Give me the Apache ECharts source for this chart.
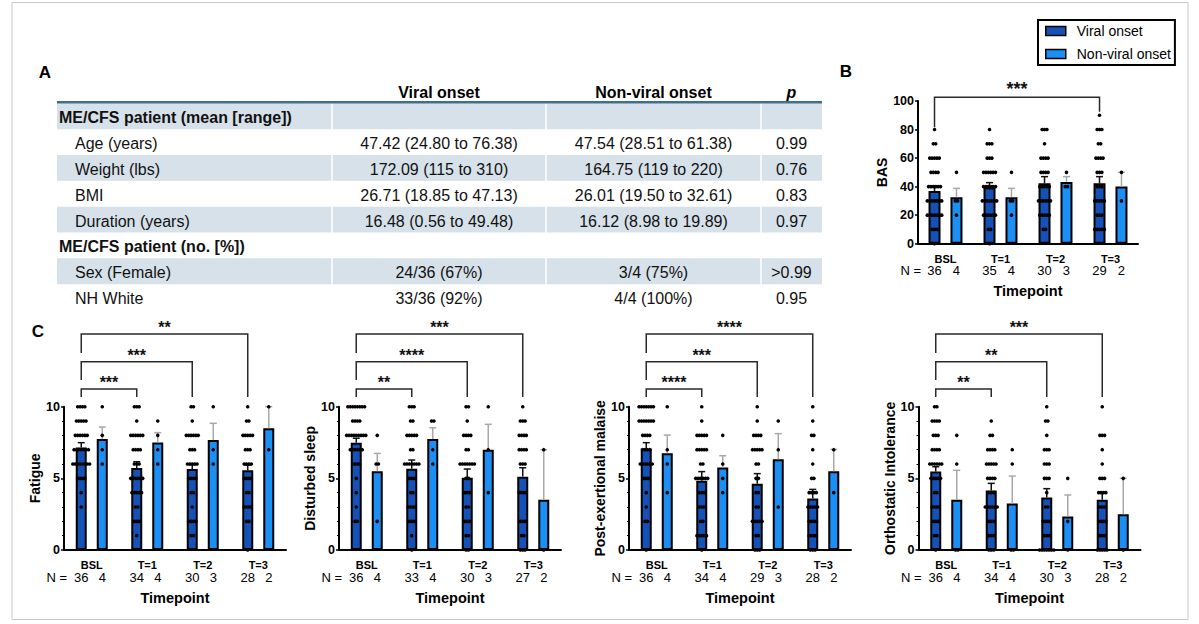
<!DOCTYPE html>
<html><head><meta charset="utf-8">
<script src="https://cdn.jsdelivr.net/npm/echarts@6/dist/echarts.min.js"></script>
<style>html,body{margin:0;padding:0;background:#fff}#c{width:1199px;height:624px}</style>
</head><body><div id="c"></div>
<script>
// ---------- data ----------
const categories = ['BSL', 'T=1', 'T=2', 'T=3'];
const seriesNames = ['Viral onset', 'Non-viral onset'];

// Panel B: BAS
const basViralMean = [36.9, 39.3, 42.3, 42.3];
const basNonMean = [32.5, 32.5, 43.3, 40];
const basViralUpper = [40.4, 42.8, 47, 47];
const basNonUpper = [38.8, 38.8, 47, 50];
const basViralN = [36, 35, 30, 29];
const basNonN = [4, 4, 3, 2];
const basViralDots = [
  [[80,1],[70,2],[60,5],[50,4],[40,6],[30,7],[20,7],[10,3],[0,1]],
  [[80,1],[70,3],[60,3],[50,6],[40,6],[30,7],[20,6],[10,2],[0,1]],
  [[80,3],[70,1],[60,4],[50,4],[40,5],[30,6],[20,5],[10,2]],
  [[90,1],[80,3],[70,2],[60,4],[50,3],[40,3],[30,5],[20,3],[10,5]]
];
const basNonDots = [
  [[50,1],[30,2],[20,1]],
  [[50,1],[30,2],[20,1]],
  [[50,1],[40,2]],
  [[50,1],[30,1]]
];
const basBrackets = [[0, 3, '***', 102.6, 81.6, 92.5]];

// Panel C: Fatigue
const fatigueViralMean = [7.16, 5.72, 5.65, 5.56];
const fatigueNonMean = [7.75, 7.5, 7.67, 8.5];
const fatigueViralUpper = [7.49, 6.16, 5.95, 5.93];
const fatigueNonUpper = [8.58, 8.19, 8.84, 10.0];
const fatigueViralN = [36, 34, 30, 28];
const fatigueNonN = [4, 4, 3, 2];
const fatigueViralDots = [
  [[10,4],[9,5],[8,6],[7,7],[6,8],[5,4],[4,1],[3,1]],
  [[10,3],[9,1],[8,6],[7,4],[6,3],[5,6],[4,5],[3,2],[2,3],[1,1]],
  [[10,2],[9,1],[8,6],[7,3],[6,5],[5,4],[4,2],[3,1],[2,4],[1,2]],
  [[10,1],[9,2],[8,5],[7,3],[6,4],[5,4],[4,2],[3,4],[2,2],[0,1]]
];
const fatigueNonDots = [
  [[10,1],[8,1],[7,1],[6,1]],
  [[9,1],[8,1],[7,1],[6,1]],
  [[10,1],[7,1],[6,1]],
  [[10,1],[7,1]]
];
const fatigueBrackets = [[0,1,'***',11.23,10.67,10.67],[0,2,'***',13.14,11.86,10.67],[0,3,'**',15.07,13.74,10.67]];

// Panel C: Disturbed sleep
const sleepViralMean = [7.49, 5.67, 5.05, 5.12];
const sleepNonMean = [5.5, 7.75, 7.0, 3.5];
const sleepViralUpper = [7.8, 6.28, 5.65, 5.74];
const sleepNonUpper = [6.74, 8.53, 8.77, 7.0];
const sleepViralN = [36, 33, 30, 27];
const sleepNonN = [4, 4, 3, 2];
const sleepViralDots = [
  [[10,8],[9,4],[8,9],[7,6],[6,4],[5,1],[4,1],[3,1],[2,2]],
  [[10,3],[9,2],[8,5],[7,2],[6,7],[5,3],[4,2],[3,4],[2,3],[1,1],[0,1]],
  [[10,2],[9,1],[8,4],[7,2],[6,7],[5,2],[4,3],[3,2],[2,3],[1,2],[0,2]],
  [[10,1],[9,3],[8,4],[7,4],[6,3],[4,4],[2,3],[1,2],[0,3]]
];
const sleepNonDots = [
  [[8,1],[6,2],[2,1]],
  [[9,2],[7,1],[6,1]],
  [[10,1],[7,1],[4,1]],
  [[7,1],[0,1]]
];
const sleepBrackets = [[0,1,'**',11.23,10.67,10.67],[0,2,'****',13.14,11.86,10.67],[0,3,'***',15.07,13.74,10.67]];

// Panel C: Post-exertional malaise
const pemViralMean = [7.09, 4.84, 4.63, 3.6];
const pemNonMean = [6.75, 5.75, 6.33, 5.5];
const pemViralUpper = [7.49, 5.47, 5.33, 4.23];
const pemNonUpper = [8.02, 6.58, 8.12, 7.02];
const pemViralN = [36, 34, 29, 28];
const pemNonN = [4, 4, 3, 2];
const pemViralDots = [
  [[10,7],[9,7],[8,4],[7,4],[6,6],[5,3],[4,1],[3,1],[2,2],[0,1]],
  [[10,1],[9,1],[8,5],[7,5],[6,2],[5,6],[4,3],[3,3],[2,2],[1,5],[0,1]],
  [[10,1],[9,1],[8,4],[7,5],[6,2],[5,2],[4,2],[3,2],[2,5],[1,2],[0,3]],
  [[10,1],[9,1],[8,2],[7,1],[6,1],[5,2],[4,4],[3,5],[2,4],[1,4],[0,3]]
];
const pemNonDots = [
  [[10,1],[7,1],[6,1],[4,1]],
  [[8,1],[6,1],[5,1],[4,1]],
  [[9,1],[7,1],[3,1]],
  [[7,1],[4,1]]
];
const pemBrackets = [[0,1,'****',11.23,10.67,10.67],[0,2,'***',13.14,11.86,10.67],[0,3,'****',15.07,13.74,10.67]];

// Panel C: Orthostatic Intolerance
const oiViralMean = [5.47, 4.16, 3.67, 3.51];
const oiNonMean = [3.5, 3.25, 2.33, 2.5];
const oiViralUpper = [5.81, 4.65, 4.28, 4.02];
const oiNonUpper = [5.56, 5.16, 3.84, 5.0];
const oiViralN = [36, 34, 30, 28];
const oiNonN = [4, 4, 3, 2];
const oiViralDots = [
  [[10,2],[9,4],[8,3],[7,4],[6,6],[5,5],[4,2],[3,4],[2,3],[1,2],[0,1]],
  [[9,1],[8,2],[7,4],[6,5],[5,4],[4,3],[3,6],[2,3],[1,3],[0,3]],
  [[10,1],[9,2],[8,1],[7,3],[6,3],[5,3],[4,1],[3,2],[2,4],[1,3],[0,7]],
  [[10,1],[8,3],[7,1],[6,1],[5,3],[4,4],[3,3],[2,4],[1,3],[0,5]]
];
const oiNonDots = [
  [[8,1],[6,1],[0,2]],
  [[7,1],[6,1],[0,2]],
  [[5,1],[2,1],[0,1]],
  [[5,1],[0,1]]
];
const oiBrackets = [[0,1,'**',11.23,10.67,10.67],[0,2,'**',13.14,11.86,10.67],[0,3,'***',15.07,13.74,10.67]];

// Panel A: table
const tableHeaders = ['Viral onset', 'Non-viral onset', 'p'];
const tableRows = ['ME/CFS patient (mean [range])', 'Age (years)', 'Weight (lbs)', 'BMI', 'Duration (years)', 'ME/CFS patient (no. [%])', 'Sex (Female)', 'NH White'];
const tableViral = ['', '47.42 (24.80 to 76.38)', '172.09 (115 to 310)', '26.71 (18.85 to 47.13)', '16.48 (0.56 to 49.48)', '', '24/36 (67%)', '33/36 (92%)'];
const tableNonViral = ['', '47.54 (28.51 to 61.38)', '164.75 (119 to 220)', '26.01 (19.50 to 32.61)', '16.12 (8.98 to 19.89)', '', '3/4 (75%)', '4/4 (100%)'];
const tableP = ['', '0.99', '0.76', '0.83', '0.97', '', '>0.99', '0.95'];
const sectionRows = [0, 5];
const shadedRows = [0, 2, 4, 6];

// ---------- styling / layout ----------
const FONT = '"Liberation Sans", Arial, sans-serif';
const VIRAL = '#1552B8';
const NONVIRAL = '#1C8FF5';
const DOT_R = 1.8, DOT_SP = 2.4;

const panels = [
  {grid: {left: 918, top: 101, width: 220, height: 142.7}, yName: 'BAS', yMax: 100, yInterval: 20, minor: false, nameGap: 29,
   barWidth: 12, barGap: 0.83, starFont: 18, starLift: 8,
   vm: basViralMean, nm: basNonMean, vu: basViralUpper, nu: basNonUpper, vn: basViralN, nn: basNonN, vd: basViralDots, nd: basNonDots, br: basBrackets},
  {grid: {left: 64, top: 406.7, width: 222, height: 143.3}, yName: 'Fatigue', yMax: 10, yInterval: 5, minor: true, nameGap: 21,
   barWidth: 11, barGap: 0.91, starFont: 16, starLift: 6.5,
   vm: fatigueViralMean, nm: fatigueNonMean, vu: fatigueViralUpper, nu: fatigueNonUpper, vn: fatigueViralN, nn: fatigueNonN, vd: fatigueViralDots, nd: fatigueNonDots, br: fatigueBrackets},
  {grid: {left: 339, top: 406.7, width: 222, height: 143.3}, yName: 'Disturbed sleep', yMax: 10, yInterval: 5, minor: true, nameGap: 21,
   barWidth: 11, barGap: 0.91, starFont: 16, starLift: 6.5,
   vm: sleepViralMean, nm: sleepNonMean, vu: sleepViralUpper, nu: sleepNonUpper, vn: sleepViralN, nn: sleepNonN, vd: sleepViralDots, nd: sleepNonDots, br: sleepBrackets},
  {grid: {left: 629, top: 406.7, width: 222, height: 143.3}, yName: 'Post-exertional malaise', yMax: 10, yInterval: 5, minor: true, nameGap: 21,
   barWidth: 11, barGap: 0.91, starFont: 16, starLift: 6.5,
   vm: pemViralMean, nm: pemNonMean, vu: pemViralUpper, nu: pemNonUpper, vn: pemViralN, nn: pemNonN, vd: pemViralDots, nd: pemNonDots, br: pemBrackets},
  {grid: {left: 918.5, top: 406.7, width: 222, height: 143.3}, yName: 'Orthostatic Intolerance', yMax: 10, yInterval: 5, minor: true, nameGap: 21,
   barWidth: 11, barGap: 0.91, starFont: 16, starLift: 6.5,
   vm: oiViralMean, nm: oiNonMean, vu: oiViralUpper, nu: oiNonUpper, vn: oiViralN, nn: oiNonN, vd: oiViralDots, nd: oiNonDots, br: oiBrackets}
];

const grids = [], xAxes = [], yAxes = [], series = [], graphics = [];

panels.forEach((p, gi) => {
  const off = p.barWidth * (1 + p.barGap) / 2;
  grids.push(Object.assign({outerBoundsMode: 'none', containLabel: false}, p.grid));
  xAxes.push({
    type: 'category', gridIndex: gi, data: categories, boundaryGap: true,
    axisLine: {lineStyle: {color: '#000', width: 2}},
    axisTick: {alignWithLabel: true, length: 4, lineStyle: {color: '#000', width: 1.5}},
    axisLabel: {
      interval: 0, margin: 9, color: '#000',
      formatter: (val, idx) => '{c|' + val + '}\n{v|' + p.vn[idx] + '}{n|' + p.nn[idx] + '}',
      rich: {
        c: {fontFamily: FONT, fontSize: 11, fontWeight: 'bold', lineHeight: 12, color: '#000', align: 'center'},
        v: {fontFamily: FONT, fontSize: 13, lineHeight: 12, width: 2 * off, align: 'center', color: '#000'},
        n: {fontFamily: FONT, fontSize: 13, lineHeight: 12, width: 2 * off, align: 'center', color: '#000'}
      }
    },
    splitLine: {show: false},
    name: 'Timepoint', nameLocation: 'middle', nameGap: 40,
    nameTextStyle: {fontFamily: FONT, fontWeight: 'bold', fontSize: 14.5, color: '#000'}
  });
  yAxes.push({
    type: 'value', gridIndex: gi, min: 0, max: p.yMax, interval: p.yInterval,
    axisLine: {show: true, lineStyle: {color: '#000', width: 2}},
    axisTick: {show: true, length: 3, lineStyle: {color: '#000', width: 1.5}},
    minorTick: {show: p.minor, splitNumber: 5, length: 2, lineStyle: {color: '#000', width: 1}},
    splitLine: {show: false},
    axisLabel: {margin: 4, fontFamily: FONT, fontWeight: 'bold', fontSize: 12.5, color: '#000'},
    name: p.yName, nameLocation: 'middle', nameGap: p.nameGap,
    nameTextStyle: {fontFamily: FONT, fontWeight: 'bold', fontSize: 14, color: '#000'}
  });
  // bars
  series.push({
    type: 'bar', name: seriesNames[0], xAxisIndex: gi, yAxisIndex: gi, data: p.vm,
    barWidth: p.barWidth, barGap: (p.barGap * 100) + '%', z: 2, silent: true,
    itemStyle: {color: VIRAL, borderColor: '#000', borderWidth: 2}
  });
  series.push({
    type: 'bar', name: seriesNames[1], xAxisIndex: gi, yAxisIndex: gi, data: p.nm,
    barWidth: p.barWidth, barGap: (p.barGap * 100) + '%', z: 2, silent: true,
    itemStyle: {color: NONVIRAL, borderColor: '#000', borderWidth: 2}
  });
  // error bars
  const errData = [];
  for (let i = 0; i < categories.length; i++) {
    errData.push([i, p.vm[i], p.vu[i], 0]);
    errData.push([i, p.nm[i], p.nu[i], 1]);
  }
  series.push({
    type: 'custom', name: 'err' + gi, xAxisIndex: gi, yAxisIndex: gi, z: 3, silent: true, clip: false,
    data: errData, encode: {x: 0, y: [1, 2]},
    renderItem: (params, api) => {
      const side = api.value(3);
      const p0 = api.coord([api.value(0), api.value(1)]);
      const p1 = api.coord([api.value(0), api.value(2)]);
      const x = p0[0] + (side ? off : -off);
      const color = side ? '#a8a8a8' : '#111';
      return {type: 'group', children: [
        {type: 'line', shape: {x1: x, y1: p0[1], x2: x, y2: p1[1]}, style: {stroke: color, lineWidth: 1.5}},
        {type: 'line', shape: {x1: x - 3.5, y1: p1[1], x2: x + 3.5, y2: p1[1]}, style: {stroke: color, lineWidth: 1.5}}
      ]};
    }
  });
  // dots
  const dotData = [];
  p.vd.forEach((grp, i) => grp.forEach(d => dotData.push([i, d[0], d[1], 0])));
  p.nd.forEach((grp, i) => grp.forEach(d => dotData.push([i, d[0], d[1], 1])));
  series.push({
    type: 'custom', name: 'dots' + gi, xAxisIndex: gi, yAxisIndex: gi, z: 4, silent: true, clip: false,
    data: dotData, encode: {x: 0, y: 1},
    renderItem: (params, api) => {
      const pt = api.coord([api.value(0), api.value(1)]);
      const side = api.value(3), c = api.value(2);
      const cx = pt[0] + (side ? off : -off);
      const children = [];
      for (let k = 0; k < c; k++) {
        children.push({type: 'circle', shape: {cx: cx + (k - (c - 1) / 2) * DOT_SP, cy: pt[1], r: DOT_R}, style: {fill: '#000'}});
      }
      return {type: 'group', children};
    }
  });
  // significance brackets
  series.push({
    type: 'custom', name: 'sig' + gi, xAxisIndex: gi, yAxisIndex: gi, z: 5, silent: true, clip: false,
    data: p.br.map(b => [b[0], b[1], b[3], b[4], b[5]]), encode: {x: [0, 1], y: [2, 3, 4]},
    renderItem: (params, api) => {
      const b = p.br[params.dataIndex];
      const pa = api.coord([api.value(0), api.value(2)]);
      const pb = api.coord([api.value(1), api.value(2)]);
      const la = api.coord([api.value(0), api.value(3)]);
      const rb = api.coord([api.value(1), api.value(4)]);
      const xa = pa[0] - off, xb = pb[0] - off;
      return {type: 'group', children: [
        {type: 'polyline', shape: {points: [[xa, la[1]], [xa, pa[1]], [xb, pa[1]], [xb, rb[1]]]}, style: {stroke: '#2a2a2a', lineWidth: 1.5, fill: 'none'}},
        {type: 'text', style: {text: b[2], x: (xa + xb) / 2, y: pa[1] - p.starLift, fill: '#111', font: 'bold ' + p.starFont + 'px ' + FONT, align: 'center', verticalAlign: 'middle', textAlign: 'center', textVerticalAlign: 'middle'}}
      ]};
    }
  });
  // "N =" label
  const nY = p.grid.top + p.grid.height + 9 + 18;
  graphics.push({type: 'text', style: {text: 'N =', x: p.grid.left + 3, y: nY, fill: '#000', font: '13px ' + FONT, align: 'right', verticalAlign: 'middle', textAlign: 'right', textVerticalAlign: 'middle'}});
});

// frame
graphics.push({type: 'rect', shape: {x: 12, y: 2.5, width: 1176, height: 617}, style: {fill: 'none', stroke: '#c8c8c8', lineWidth: 1}, z: -10});
// panel letters
[['A', 45, 72.5], ['B', 846, 71], ['C', 38, 331.5]].forEach(l => {
  graphics.push({type: 'text', style: {text: l[0], x: l[1], y: l[2], fill: '#000', font: 'bold 17px ' + FONT, align: 'center', verticalAlign: 'middle', textAlign: 'center', textVerticalAlign: 'middle'}});
});

// table
const T = {left: 57, right: 822, top: 103.3, rowH: 25.84, colSep: [332, 546, 761], colC: [439, 653.5, 791.5], secX: 59, subX: 75, headY: 92};
shadedRows.forEach(r => {
  graphics.push({type: 'rect', shape: {x: T.left, y: T.top + r * T.rowH, width: T.right - T.left, height: T.rowH}, style: {fill: '#d6e1ea'}, z: -5});
});
T.colSep.forEach(x => {
  graphics.push({type: 'line', shape: {x1: x, y1: T.top, x2: x, y2: T.top + tableRows.length * T.rowH}, style: {stroke: '#ffffff', lineWidth: 1.5}, z: -4});
});
graphics.push({type: 'line', shape: {x1: T.left, y1: T.top - 1, x2: T.right, y2: T.top - 1}, style: {stroke: '#3f6f8c', lineWidth: 2.5}, z: -3});
tableHeaders.forEach((h, i) => {
  graphics.push({type: 'text', style: {text: h, x: T.colC[i], y: T.headY, fill: '#000', font: (i === 2 ? 'italic ' : '') + 'bold 16px ' + FONT, align: 'center', verticalAlign: 'middle', textAlign: 'center', textVerticalAlign: 'middle'}});
});
tableRows.forEach((label, r) => {
  const y = T.top + r * T.rowH + T.rowH / 2 + 1.5;
  const isSec = sectionRows.indexOf(r) >= 0;
  graphics.push({type: 'text', style: {text: label, x: isSec ? T.secX : T.subX, y, fill: '#111', font: (isSec ? 'bold ' : '') + '16px ' + FONT, align: 'left', verticalAlign: 'middle', textAlign: 'left', textVerticalAlign: 'middle'}});
  [tableViral[r], tableNonViral[r], tableP[r]].forEach((t, ci) => {
    if (!t) return;
    graphics.push({type: 'text', style: {text: t, x: T.colC[ci], y, fill: '#111', font: '16px ' + FONT, align: 'center', verticalAlign: 'middle', textAlign: 'center', textVerticalAlign: 'middle'}});
  });
});

const option = {
  animation: false,
  backgroundColor: '#ffffff',
  textStyle: {fontFamily: FONT},
  grid: grids, xAxis: xAxes, yAxis: yAxes, series: series,
  legend: {
    data: seriesNames, left: 1038, top: 20, orient: 'vertical', icon: 'rect',
    itemWidth: 20, itemHeight: 9, itemGap: 9, padding: [4, 4, 4, 7],
    borderColor: '#000', borderWidth: 2, selectedMode: false,
    itemStyle: {borderColor: '#000', borderWidth: 1.5},
    textStyle: {fontFamily: FONT, fontSize: 14, color: '#000', padding: [0, 0, 0, 6]}
  },
  graphic: {elements: graphics}
};

const chart = echarts.init(document.getElementById('c'), null, {renderer: 'svg'});
chart.setOption(option);
</script>
</body></html>
